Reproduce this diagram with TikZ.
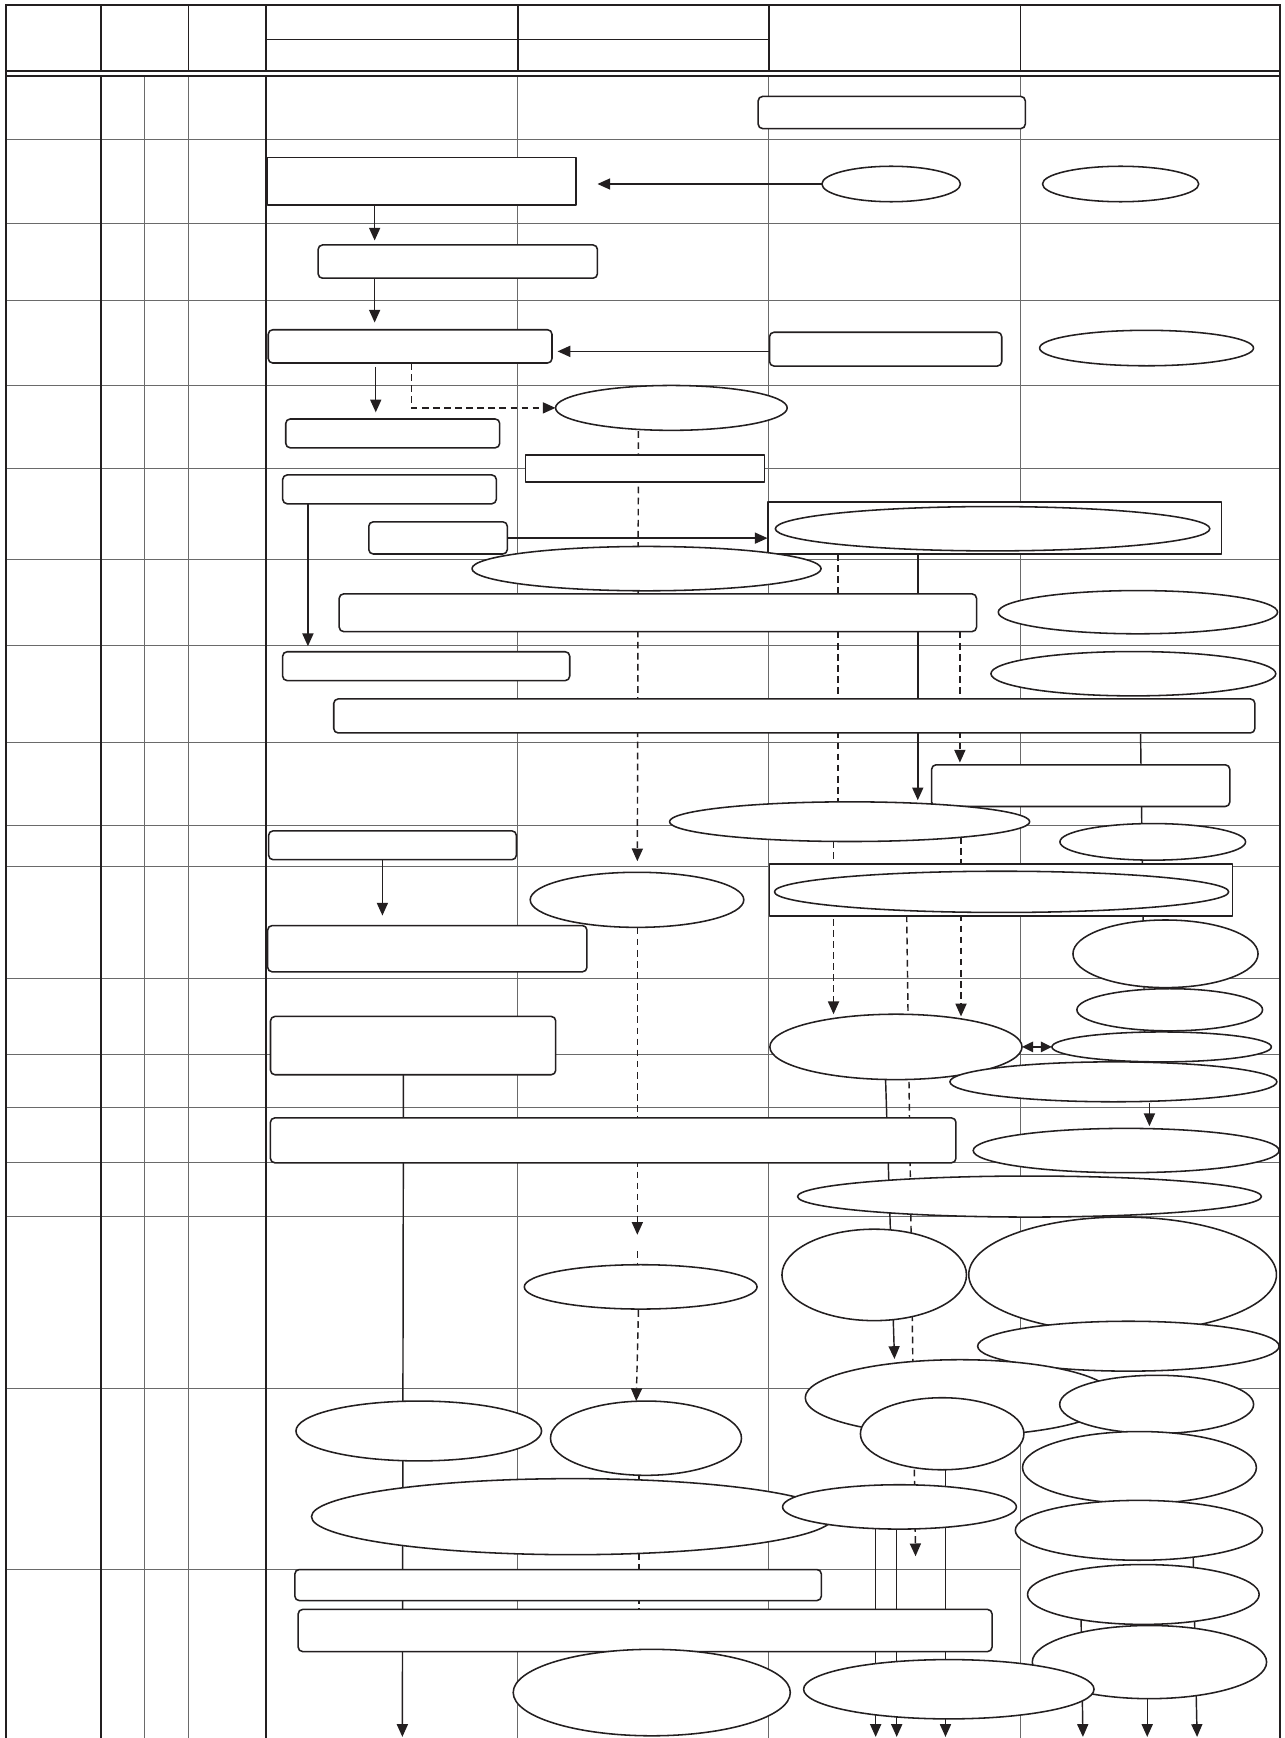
\documentclass[tikz,border=0pt]{standalone}
\usetikzlibrary{shapes.geometric,arrows.meta}
\pgfdeclarelayer{gridl}
\pgfdeclarelayer{conn}
\pgfsetlayers{gridl,conn,main}
\definecolor{ink}{HTML}{231F20}
\definecolor{gridc}{HTML}{6A6A6A}
\tikzset{
  rb/.style={draw=ink, fill=white, line width=1.4pt, rounded corners=4pt, inner sep=0pt, outer sep=0pt},
  sq/.style={draw=ink, fill=white, line width=1.4pt, inner sep=0pt, outer sep=0pt},
  el/.style={ellipse, draw=ink, fill=white, line width=1.4pt, inner sep=0pt, outer sep=0pt},
  sz/.style 2 args={minimum width=#1pt, minimum height=#2pt},
  con/.style={draw=ink, line width=1.3pt},
  arr/.style={con, -{Triangle[length=11.5pt,width=10pt]}},
  darr/.style={con, {Triangle[length=10pt,width=9.5pt]}-{Triangle[length=10pt,width=9.5pt]}},
  dsh/.style={dash pattern=on 6pt off 4pt},
  thickg/.style={draw=ink, line width=1.8pt},
  headg/.style={draw=ink, line width=1.3pt},
  thing/.style={draw=gridc, line width=0.9pt}
}
\begin{document}
\begin{tikzpicture}[x=1pt,y=-1pt,line join=round]
\useasboundingbox (0,0) rectangle (1159,1568);

% ---------------- grid ----------------
\begin{pgfonlayer}{gridl}
  \fill[white] (0,0) rectangle (1159,1568);
  \foreach \yy in {126.3,201.3,271.5,347.8,423,505,582.4,670.2,744.7,781.7,883,951.6,999.6,1048.7,1097.6,1253}
    \draw[thing] (5.5,\yy) -- (1155,\yy);
  \draw[thing] (5.5,1416) -- (920.5,1416);
  \foreach \xx in {130.8,170,467.2,693.6,920.5}
    \draw[thing] (\xx,68.3) -- (\xx,1568);
  \foreach \xx in {91.5,240}
    \draw[thickg] (\xx,68.3) -- (\xx,1568);
  \foreach \xx in {170,467.2,693.6,920.5}
    \draw[headg] (\xx,4.5) -- (\xx,64);
  \foreach \xx in {91.5,240}
    \draw[thickg] (\xx,4.5) -- (\xx,64);
  \draw[headg] (240,35.5) -- (693.6,35.5);
  \draw[thickg] (5.5,64) -- (1155,64);
  \draw[thickg] (5.5,68.3) -- (1155,68.3);
  \draw[thickg] (5.5,1568) -- (5.5,4.5) -- (1155,4.5) -- (1155,1568);
\end{pgfonlayer}

% ---------------- nodes ----------------
% row 1
\node[rb,sz={241}{29}] (n1) at (804.5,101.5) {};
% row 2
\node[sq,sz={278}{43}] (n2) at (380.5,163.5) {};
\node[el,sz={125}{32}] (e2a) at (804,166) {};
\node[el,sz={141}{32}] (e2b) at (1011,166) {};
% row 3
\node[rb,sz={252}{30}] (n3) at (413,236) {};
% row 4
\node[rb,sz={256}{30}] (n4) at (370,312.5) {};
\node[rb,sz={209.5}{30.5}] (n4b) at (799,315) {};
\node[el,sz={193}{32}] (e4) at (1034.4,314) {};
% row 5
\node[el,sz={209}{40.5}] (e5) at (605.7,368) {};
\node[rb,sz={193}{26}] (n5) at (354.3,391) {};
\node[sq,sz={215.5}{24.3}] (n5b) at (582,422.5) {};
% row 6
\node[rb,sz={192.7}{26}] (n6) at (351.4,441.5) {};
\node[rb,sz={125}{29}] (n6b) at (395.2,485.3) {};
\node[sq,sz={409}{47}] (n6c) at (897.4,476.3) {};
\node[el,sz={392}{40}] (e6) at (895.5,477) {};
% row 7
\node[el,sz={315}{40}] (e7a) at (583.3,513) {};
\node[rb,sz={575}{34}] (n7) at (593.5,552.8) {};
\node[el,sz={252}{39}] (e7b) at (1026.6,552.3) {};
% row 8
\node[rb,sz={259}{26}] (n8) at (384.5,601) {};
\node[el,sz={257}{40}] (e8) at (1022.5,607.8) {};
\node[rb,sz={831}{30.7}] (n8b) at (716.6,645.9) {};
% row 9
\node[rb,sz={269}{37.6}] (n9) at (975,708.8) {};
\node[el,sz={325}{35.8}] (e9) at (766.5,741.3) {};
% row 10
\node[rb,sz={223.5}{26}] (n10) at (354.1,762.6) {};
\node[el,sz={167.5}{33}] (e10) at (1040,759.5) {};
% row 11
\node[el,sz={192.7}{49.7}] (e11a) at (574.7,811.8) {};
\node[sq,sz={417.7}{47}] (n11) at (903.2,802.8) {};
\node[el,sz={409.8}{37.2}] (e11b) at (903.6,804.6) {};
\node[rb,sz={288}{41.7}] (n11b) at (385.5,855.9) {};
\node[el,sz={167}{61}] (e11c) at (1051.5,860.5) {};
% row 12
\node[rb,sz={257.3}{52.6}] (n12) at (372.7,943.3) {};
\node[el,sz={167.5}{38}] (e12a) at (1055.3,911) {};
\node[el,sz={227.5}{59}] (e12b) at (808.3,944.5) {};
\node[el,sz={198}{27}] (e12c) at (1048,944.5) {};
% row 13
\node[el,sz={295}{36}] (e13) at (1004.5,976) {};
% row 14
\node[rb,sz={618.5}{40.5}] (n14) at (553.2,1028.8) {};
\node[el,sz={276}{40}] (e14) at (1016,1038) {};
% row 15
\node[el,sz={418.5}{37}] (e15) at (928.8,1079.5) {};
% row 16
\node[el,sz={210}{40}] (e16a) at (578,1161) {};
\node[el,sz={166.5}{82.5}] (e16b) at (788.7,1150.2) {};
\node[el,sz={277.6}{104}] (e16c) at (1012.8,1150) {};
\node[el,sz={272}{45}] (e16d) at (1018,1214.5) {};
\node[el,sz={279}{68.6}] (e16e) at (866,1261) {};
\node[el,sz={175}{52.5}] (e16f) at (1043.5,1267) {};
\node[el,sz={147.5}{65}] (e16g) at (850,1293.5) {};
% row 17
\node[el,sz={221.6}{54}] (e17a) at (377.8,1291) {};
\node[el,sz={172.3}{67}] (e17b) at (582.8,1297.5) {};
\node[el,sz={211}{65}] (e17c) at (1028,1324) {};
\node[el,sz={471}{68.6}] (e17d) at (516.5,1368.3) {};
\node[el,sz={211}{40}] (e17e) at (811.5,1359.5) {};
\node[el,sz={223}{54}] (e17f) at (1027.5,1380.6) {};
\node[el,sz={209}{54}] (e17g) at (1031.5,1438.5) {};
\node[el,sz={211.4}{66}] (e17h) at (1037,1499.5) {};
\node[el,sz={262}{53.5}] (e17i) at (856,1524) {};
\node[rb,sz={475}{28}] (n17a) at (503.5,1430) {};
\node[rb,sz={626}{38}] (n17b) at (582,1471) {};
\node[el,sz={250}{78}] (e17j) at (588,1527) {};

% ---------------- connectors ----------------
\begin{pgfonlayer}{conn}
  \draw[arr] (e2a.west) -- (539,166);
  \draw[arr] (338,185) -- (338,217);
  \draw[arr] (338,251) -- (338,291);
  \draw[arr] (694,317) -- (503,317);
  \draw[arr] (339,331) -- (339,372);
  \draw[arr,dsh] (371,327.6) -- (371,368) -- (e5.west);
  \draw[arr,dsh] (576,389) -- (575,777);
  \draw[arr] (277.8,454.6) -- (277.8,583);
  \draw[arr] (457,485.5) -- (692.5,485.5);
  \draw[con,dsh] (756,500) -- (756,723.5);
  \draw[arr] (828,500) -- (828,722);
  \draw[arr,dsh] (866,570) -- (866,688);
  \draw[con] (1029,662) -- (1033,958);
  \draw[arr] (345,776) -- (345,826);
  \draw[arr,dsh] (752,759) -- (752,915);
  \draw[arr,dsh] (867,755) -- (867,917);
  \draw[arr,dsh] (818,826) -- (826,1404);
  \draw[arr,dsh] (575,837) -- (575,1114);
  \draw[con,dsh] (575,1129) -- (575,1141);
  \draw[darr] (e12b.east) -- (e12c.west);
  \draw[arr] (364,970) -- (363,1567);
  \draw[arr] (1037,995) -- (1037,1016);
  \draw[arr] (798,944) -- (807,1226);
  \draw[arr,dsh] (576,1182) -- (574,1264);
  \draw[con,dsh] (576.5,1331) -- (576.5,1490);
  \draw[arr] (790,1376) -- (790,1567);
  \draw[arr] (809,1379) -- (809,1567);
  \draw[arr] (853,1326) -- (853,1567);
  \draw[arr] (975,1439) -- (977,1567);
  \draw[arr] (1076,1381) -- (1080,1567);
  \draw[arr] (1035,1533) -- (1035,1567);
\end{pgfonlayer}
\end{tikzpicture}
\end{document}
